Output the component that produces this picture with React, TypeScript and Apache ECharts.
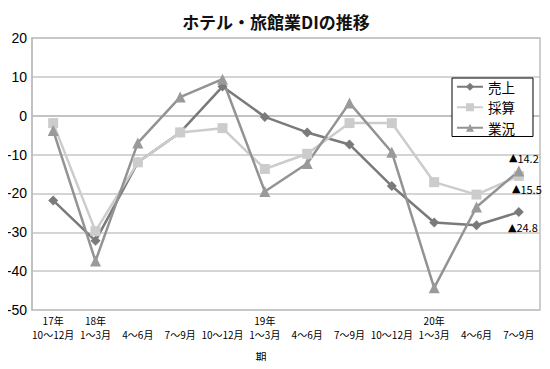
import React, { useEffect, useRef } from "react";
import * as echarts from "echarts";

const years = ["17年", "18年", "", "", "", "19年", "", "", "", "20年", "", ""];
const periods = ["10～12月", "1～3月", "4～6月", "7～9月", "10～12月", "1～3月", "4～6月", "7～9月", "10～12月", "1～3月", "4～6月", "7～9月"];
const sales = [-21.8, -32.2, -12.0, -4.3, 7.5, -0.3, -4.3, -7.4, -18.1, -27.5, -28.2, -24.8];
const profit = [-1.9, -29.7, -12.0, -4.3, -3.2, -13.7, -9.8, -1.9, -1.9, -17.1, -20.3, -15.5];
const business = [-3.8, -37.4, -7.0, 4.8, 9.4, -19.5, -12.3, 3.3, -9.4, -44.3, -23.5, -14.2];
const seriesNames = ["売上", "採算", "業況"];
const lastLabels = ["24.8", "15.5", "14.2"];
const yTicks = { min: -50, max: 20, interval: 10 };

const categories = periods.map((p, i) => `${years[i]}\n${p}`);

const CJK = "'Noto Sans CJK JP', sans-serif";

function withLastLabel(values: number[], text: string, offset: number[]) {
  return values.map((v, i) =>
    i === values.length - 1
      ? {
          value: v,
          label: {
            show: true,
            position: "inside",
            offset,
            formatter: `{t|▲}{n|${text}}`,
            rich: {
              t: { fontSize: 11, color: "#000", fontFamily: "'DejaVu Sans', sans-serif" },
              n: { fontSize: 11, color: "#000", fontFamily: CJK, letterSpacing: -0.6 },
            },
          },
        }
      : v
  );
}

export default function App() {
  const ref = useRef<HTMLDivElement>(null);
  useEffect(() => {
    if (!ref.current) return;
    const chart = echarts.init(ref.current, undefined, { renderer: "svg" });
    chart.setOption({
      animation: false,
      backgroundColor: "#fff",
      title: {
        text: "ホテル・旅館業DIの推移",
        left: 271,
        textAlign: "center",
        top: 8,
        textStyle: { fontSize: 17, fontWeight: "bold", color: "#111", fontFamily: CJK },
      },
      grid: {
        left: 32,
        right: 10,
        top: 38,
        bottom: 59,
        show: true,
        borderColor: "#bdbdbd",
        borderWidth: 1.5,
      },
      legend: {
        orient: "vertical",
        left: 452,
        top: 78,
        data: seriesNames,
        borderColor: "#000",
        borderWidth: 1,
        padding: [2, 18, 2, 4],
        itemGap: 7,
        itemWidth: 26,
        itemHeight: 10,
        backgroundColor: "#fff",
        textStyle: { fontSize: 13.5, color: "#000", fontFamily: CJK },
      },
      xAxis: {
        type: "category",
        data: categories,
        boundaryGap: true,
        axisTick: { show: false },
        axisLine: { show: true, lineStyle: { color: "#bdbdbd", width: 1.5 } },
        axisLabel: {
          interval: 0,
          color: "#000",
          fontSize: 10,
          lineHeight: 14.5,
          margin: 3,
          fontFamily: CJK,
          letterSpacing: -0.8,
        },
      },
      yAxis: {
        type: "value",
        min: yTicks.min,
        max: yTicks.max,
        interval: yTicks.interval,
        axisLine: { show: true, lineStyle: { color: "#bdbdbd", width: 1.5 } },
        axisTick: { show: false },
        splitLine: { show: true, lineStyle: { color: "#c6c6c6", width: 1.5 } },
        axisLabel: {
          color: "#000",
          fontSize: 14,
          margin: 5,
          fontFamily: "'Liberation Sans', Arial, sans-serif",
        },
      },
      graphic: [
        {
          type: "text",
          x: 261,
          y: 357,
          style: {
            text: "期",
            fontSize: 11,
            fontFamily: CJK,
            fill: "#000",
            textAlign: "center",
            textVerticalAlign: "middle",
          },
        },
      ],
      series: [
        {
          name: seriesNames[0],
          type: "line",
          data: withLastLabel(sales, lastLabels[0], [4, 15]),
          symbol: "diamond",
          symbolSize: 10,
          itemStyle: { color: "#7a7a7a" },
          lineStyle: { color: "#7a7a7a", width: 2.5 },
        },
        {
          name: seriesNames[1],
          type: "line",
          data: withLastLabel(profit, lastLabels[1], [8, 13]),
          symbol: "rect",
          symbolSize: 10,
          itemStyle: { color: "#cccccc" },
          lineStyle: { color: "#cccccc", width: 2.5 },
        },
        {
          name: seriesNames[2],
          type: "line",
          data: withLastLabel(business, lastLabels[2], [5, -13]),
          symbol: "triangle",
          symbolSize: 11,
          itemStyle: { color: "#9a9a9a" },
          lineStyle: { color: "#939393", width: 2.5 },
        },
      ],
    });
    return () => chart.dispose();
  }, []);
  return <div ref={ref} style={{ width: 550, height: 369, margin: -8 }} />;
}
